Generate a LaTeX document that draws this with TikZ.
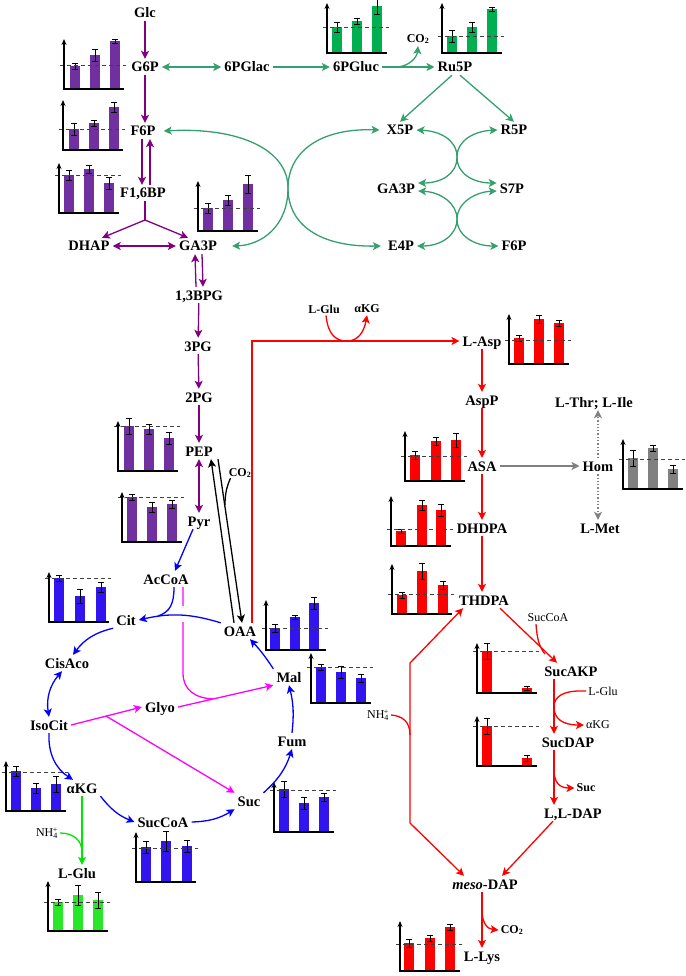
\documentclass[tikz,border=0pt]{standalone}
\usepackage{fontspec}
\setmainfont{Liberation Serif}
\usetikzlibrary{arrows.meta}

\definecolor{glycol}{RGB}{128,0,128}
\definecolor{glycbar}{RGB}{112,48,160}
\definecolor{pppcol}{RGB}{52,160,110}
\definecolor{pppbar}{RGB}{0,176,80}
\definecolor{tcacol}{RGB}{0,0,255}
\definecolor{tcabar}{RGB}{50,20,240}
\definecolor{glyocol}{RGB}{255,0,255}
\definecolor{lyscol}{RGB}{255,0,0}
\definecolor{glucol}{RGB}{0,230,0}
\definecolor{glubar}{RGB}{40,230,40}
\definecolor{homcol}{RGB}{128,128,128}

\newcommand{\minichart}[5]{%
  \foreach \o/\h/\e in {#5}{%
    \fill[#3] (#1+\o-5,#2) rectangle (#1+\o+5,#2-\h);
    \draw[line width=0.8pt] (#1+\o,#2-\h-\e) -- (#1+\o,#2-\h+\e)
      (#1+\o-3,#2-\h-\e) -- (#1+\o+3,#2-\h-\e)
      (#1+\o-3,#2-\h+\e) -- (#1+\o+3,#2-\h+\e);
  }
  \draw[black!75, line width=0.7pt, dash pattern=on 4pt off 3pt] (#1-4,#2-#4) -- (#1+62,#2-#4);
  \draw[line width=1.3pt, -{Stealth[length=6pt,width=5pt]}] (#1+60,#2) -- (#1,#2) -- (#1,#2-50);
}

\tikzset{
  >={Stealth[length=8pt,width=8pt,inset=2pt]},
  met/.style={font=\bfseries\fontsize{14.5}{16}\selectfont, inner sep=3pt, text height=10pt, text depth=0pt},
  small/.style={font=\bfseries\fontsize{12}{13}\selectfont, inner sep=2pt},
  smallr/.style={font=\fontsize{12}{13}\selectfont, inner sep=2pt},
  glyc/.style={draw=glycol, line width=1.3pt},
  ppp/.style={draw=pppcol, line width=1.3pt},
  tca/.style={draw=tcacol, line width=1.3pt},
  glyo/.style={draw=glyocol, line width=1.3pt},
  lys/.style={draw=lyscol, line width=1.3pt},
  glu/.style={draw=glucol, line width=1.3pt},
  side/.style={draw=homcol, line width=1.3pt},
  anap/.style={draw=black, line width=1.3pt},
}

\begin{document}
\begin{tikzpicture}[x=1pt,y=-1pt]
\useasboundingbox (0,0) rectangle (685,976);

\node[met] (glc) at (145,13) {Glc};
\node[met] (g6p) at (145,67) {G6P};
\node[met] (f6p) at (143,131) {F6P};
\node[met] (f16bp) at (143,193) {F1,6BP};
\node[met] (dhap) at (89,246) {DHAP};
\node[met] (ga3p) at (198,246) {GA3P};
\node[met] (bpg) at (199,295) {1,3BPG};
\node[met] (pg3) at (198,346) {3PG};
\node[met] (pg2) at (199,397) {2PG};
\node[met] (pep) at (199,451) {PEP};
\node[met] (pyr) at (199,521) {Pyr};
\node[small] (co2b) at (240,473) {CO\textsubscript{2}};

\node[met] (pglac) at (247,67) {6PGlac};
\node[met] (pgluc) at (356,67) {6PGluc};
\node[met] (ru5p) at (455,67) {Ru5P};
\node[small] (co2a) at (418,39) {CO\textsubscript{2}};
\node[met] (x5p) at (400,130) {X5P};
\node[met] (r5p) at (514,130) {R5P};
\node[met] (ga3pb) at (396,189) {GA3P};
\node[met] (s7p) at (512,189) {S7P};
\node[met] (e4p) at (401,246) {E4P};
\node[met] (f6pb) at (514,246) {F6P};

\node[met] (acc) at (166,579) {AcCoA};
\node[met] (cit) at (126,620) {Cit};
\node[met] (oaa) at (240,631) {OAA};
\node[met] (cisaco) at (67,663) {CisAco};
\node[met] (mal) at (289,677) {Mal};
\node[met] (glyox) at (160,707) {Glyo};
\node[met] (isocit) at (49,725) {IsoCit};
\node[met] (fum) at (292,741) {Fum};
\node[met] (akg) at (82,788) {αKG};
\node[met] (suc) at (249,801) {Suc};
\node[met] (succoa) at (163,822) {SucCoA};
\node[smallr] (nh4) at (47,833) {NH\textsubscript{4}\llap{\textsuperscript{+}}};
\node[met] (lglu) at (77,873) {L-Glu};

\node[small] (lglub) at (324,309) {L-Glu};
\node[small] (akgb) at (367,309) {αKG};
\node[met] (lasp) at (482,341) {L-Asp};
\node[met] (aspp) at (482,400) {AspP};
\node[met] (asa) at (482,466) {ASA};
\node[met] (hom) at (598,466) {Hom};
\node[met] (lthr) at (594,402) {L-Thr; L-Ile};
\node[met] (lmet) at (600,528) {L-Met};
\node[met] (dhdpa) at (482,528) {DHDPA};
\node[met] (thdpa) at (484,600) {THDPA};
\node[smallr] (succoab) at (548,618) {SucCoA};
\node[met] (sucakp) at (571,671) {SucAKP};
\node[smallr] (lgluc) at (603,691) {L-Glu};
\node[smallr] (akgc) at (598,725) {αKG};
\node[met] (sucdap) at (568,742) {SucDAP};
\node[small] (sucb) at (586,788) {Suc};
\node[met] (lldap) at (573,813) {L,L-DAP};
\node[smallr] (nh4b) at (378,715) {NH\textsubscript{4}\llap{\textsuperscript{+}}};
\node[met] (meso) at (485,884) {\textit{meso}-DAP};
\node[small] (co2c) at (512,930) {CO\textsubscript{2}};
\node[met] (llys) at (482,956) {L-Lys};

\coordinate (jn) at (145,220);
\coordinate (co2j) at (396,67);
\coordinate (br) at (106,716);
\coordinate (gm) at (213,699);
\coordinate (vx) at (554,0);
\coordinate (lx) at (482,0);
\coordinate (c1) at (410,823);
\coordinate (c2) at (410,663);

\minichart{64}{89}{glycbar}{24}{11/23/3, 31/34/6, 51/48/2}
\minichart{63}{150}{glycbar}{21}{11/21/6, 31/27/3, 51/43/5}
\minichart{59}{213}{glycbar}{38}{10/38/5, 30/44/4, 50/30/6}
\minichart{198}{231}{glycbar}{23}{10/23/5, 30/31/5, 50/47/9}
\minichart{327}{53}{pppbar}{26}{10/26/5, 30/32/3, 50/47/8}
\minichart{442}{53}{pppbar}{17}{10/17/6, 30/26/5, 50/44/2}
\minichart{118}{471}{glycbar}{45}{11/45/8, 31/42/5, 51/33/6}
\minichart{122}{542}{glycbar}{45}{10/45/3, 30/35/5, 50/38/4}
\minichart{49}{622}{tcabar}{44}{10/44/3, 31/26/7, 52/35/5}
\minichart{266}{650}{tcabar}{22}{9/22/4, 29/33/2, 48/47/6}
\minichart{311}{703}{tcabar}{36}{10/36/3, 30/31/6, 50/25/4}
\minichart{6}{811}{tcabar}{39}{10/40/5, 30/23/5, 50/27/8}
\minichart{274}{832}{tcabar}{42}{10/43/8, 30/29/6, 50/35/4}
\minichart{136}{882}{tcabar}{34}{10/35/6, 30/41/10, 51/36/6}
\minichart{48}{931}{glubar}{29}{10/29/3, 30/36/10, 50/31/8}
\minichart{509}{364}{lyscol}{24}{10/26/3, 30/45/4, 50/41/3}
\minichart{405}{481}{lyscol}{25}{10/26/4, 31/40/4, 51/41/7}
\minichart{623}{489}{homcol}{30}{10/31/8, 30/41/3, 50/20/4}
\minichart{391}{546}{lyscol}{17}{10/15/2, 31/41/5, 50/36/6}
\minichart{392}{614}{lyscol}{20}{10/19/3, 30/43/8, 51/29/4}
\minichart{477}{693}{lyscol}{42}{10/42/8, 50/5/2}
\minichart{477}{766}{lyscol}{40}{10/40/8, 50/8/3}
\minichart{400}{971}{lyscol}{27}{9/28/4, 30/33/3, 50/44/3}

\draw[glyc, ->] (glc) -- (g6p);
\draw[glyc, ->] (g6p) -- (g6p |- f6p.north);
\draw[glyc, ->] ([xshift=-1pt]f6p.south) -- ([xshift=-1pt]f16bp.north);
\draw[glyc, ->] ([xshift=7pt]f16bp.north) -- ([xshift=7pt]f6p.south);
\draw[glyc] (f16bp.south -| jn) -- (jn);
\draw[glyc, ->] (jn) -- ([xshift=13pt]dhap.north);
\draw[glyc, ->] (jn) -- ([xshift=-10pt]ga3p.north);
\draw[glyc, <->] (dhap) -- (ga3p);
\draw[glyc, ->] ([xshift=-3pt]bpg.north) -- ([xshift=-3pt]ga3p.south);
\draw[glyc, ->] ([xshift=4pt]ga3p.south) -- ([xshift=4pt]bpg.north);
\draw[glyc, ->] (bpg) -- (pg3);
\draw[glyc, ->] (pg3) -- (pg2);
\draw[glyc, ->] (pg2) -- (pep);
\draw[glyc, <->] (pep) -- (pyr);

\draw[ppp, <->] (g6p) -- (pglac);
\draw[ppp, ->] (pglac) -- (pgluc);
\draw[ppp, ->] (pgluc) -- (ru5p);
\draw[ppp, ->] (co2j) .. controls (408,67) and (417,58) .. (co2a.south);
\draw[ppp, ->] ([xshift=-3pt]ru5p.south) -- (x5p.north);
\draw[ppp, ->] ([xshift=5pt]ru5p.south) -- (r5p.north);
\draw[ppp, <->] (x5p.east) .. controls (440,131) and (457,140) .. (457,157) .. controls (457,175) and (440,183) .. ([yshift=6pt]ga3pb.east);
\draw[ppp, <->] (r5p.west) .. controls (475,131) and (457,140) .. (457,157) .. controls (457,175) and (475,183) .. ([yshift=6pt]s7p.west);
\draw[ppp, <->] ([yshift=-2pt]ga3pb.east) .. controls (440,192) and (457,203) .. (457,219) .. controls (457,236) and (440,246) .. (e4p.east);
\draw[ppp, <->] ([yshift=-2pt]s7p.west) .. controls (475,192) and (457,203) .. (457,219) .. controls (457,236) and (475,246) .. (f6pb.west);
\draw[ppp, <->] ([xshift=5pt]f6p.east) .. controls (240,127) and (288,150) .. (288,188) .. controls (288,226) and (262,245) .. ([xshift=12pt]ga3p.east);
\draw[ppp, <->] ([xshift=-4pt]x5p.west) .. controls (320,128) and (288,152) .. (288,188) .. controls (288,225) and (320,247) .. ([xshift=-4pt]e4p.west);

\draw[anap, ->] ([xshift=-6pt]oaa.north) -- ([xshift=12pt]pep.south);
\draw[anap, ->] ([xshift=19pt]pep.south) -- ([xshift=2pt]oaa.north);
\draw[anap] ([xshift=4pt,yshift=2pt]co2b.south west) .. controls (227,486) and (225,493) .. (225,505);

\draw[glyo] ([xshift=17pt]acc.south) -- (183,673) .. controls (183,690) and (195,698) .. (gm);
\draw[glyo, ->] (isocit.east) -- (glyox.west);
\draw[glyo, ->] (br) -- (suc.north west);
\draw[glyo, ->] (glyox.east) -- (mal.south west);

\draw[tca, ->] ([xshift=-6pt]pyr.south) -- ([xshift=9pt]acc.north);
\draw[white, line width=5pt] (183,606) -- (183,622);
\draw[tca, ->] (oaa.north west) to[bend right=15] (cit.east);
\draw[tca] ([xshift=8pt]acc.south) .. controls (174,604) and (170,612) .. (158,616);
\draw[tca, ->] (cit.south west) to[bend right=20] ([xshift=6pt]cisaco.north);
\draw[tca, <->] ([xshift=-5pt]cisaco.south) to[bend right=25] (isocit.north);
\draw[tca, ->] (isocit.south) to[bend right=30] ([xshift=-9pt]akg.north);
\draw[tca, ->] (akg.south east) to[bend right=15] (succoa.west);
\draw[tca, ->] (succoa.east) to[bend right=15] (suc.south west);
\draw[tca, ->] (suc.north east) to[bend right=15] (fum.south);
\draw[tca, ->] (fum.north) to[bend right=10] (mal.south);
\draw[tca, ->] (mal.north west) to[bend right=5] ([xshift=10pt]oaa.south);

\draw[glu, ->] (akg.south) -- (akg.south |- lglu.north);
\draw[glu] (nh4.east) .. controls (73,833) and (82,840) .. (82,852);

\draw[lys, ->] ([xshift=12pt]oaa.north) |- (lasp.west);
\draw[lys, ->] ([xshift=2pt]lglub.south) .. controls (328,335) and (336,341) .. (347,341) .. controls (358,341) and (364,332) .. (akgb.south);
\draw[lys, ->] (lx |- lasp.south) -- (lx |- aspp.north);
\draw[lys, ->] (lx |- aspp.south) -- (lx |- asa.north);
\draw[lys, ->] (lx |- asa.south) -- (lx |- dhdpa.north);
\draw[lys, ->] (lx |- dhdpa.south) -- (lx |- thdpa.north);
\draw[lys, ->] ([xshift=16pt]thdpa.south) -- ([xshift=-14pt]sucakp.north);
\draw[lys] ([xshift=-12pt]succoab.south) .. controls (537,640) and (540,648) .. (545,654);
\draw[lys, ->] (vx |- sucakp.south) -- (vx |- sucdap.north);
\draw[lys, ->] (lgluc.west) .. controls (562,690) and (554,697) .. (554,707) .. controls (554,719) and (563,725) .. (akgc.west);
\draw[lys, ->] (vx |- sucdap.south) -- (vx |- lldap.north);
\draw[lys, ->] (554,770) .. controls (554,783) and (560,788) .. (sucb.west);
\draw[lys, ->] ([xshift=-20pt]lldap.south) -- ([xshift=17pt]meso.north);
\draw[lys, <->] ([xshift=-21pt]meso.north) -- (c1) -- (c2) -- ([xshift=-21pt]thdpa.south);
\draw[lys] (nh4b.east) .. controls (403,716) and (410,722) .. (410,735);
\draw[lys, ->] (lx |- meso.south) -- (lx |- llys.north);
\draw[lys, ->] (482,910) .. controls (482,924) and (488,929) .. (co2c.west);

\draw[side, ->] (asa) -- (hom);
\draw[side, dotted, ->] (hom.north) -- (hom.north |- lthr.south);
\draw[side, dotted, ->] (hom.south) -- (hom.south |- lmet.north);

\end{tikzpicture}
\end{document}
